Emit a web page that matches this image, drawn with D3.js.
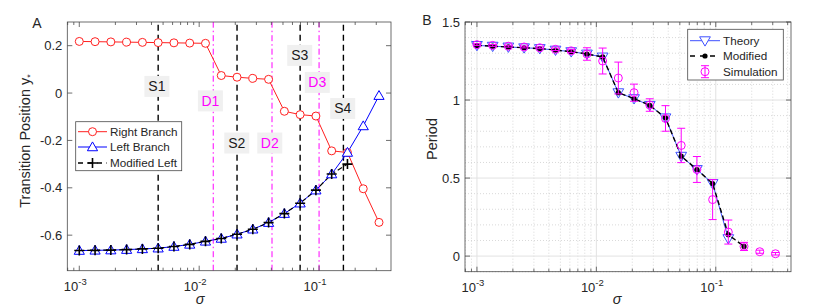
<!DOCTYPE html>
<html>
<head>
<meta charset="utf-8">
<script src="https://cdn.jsdelivr.net/npm/d3@7"></script>
<style>
    body { margin: 0; background: #fff; }
    text { font-family: "Liberation Sans", Arial, sans-serif; fill: #262626; }
</style>
</head>
<body>
<div id="chart"></div>
<script>
// sigma samples (shared by both panels)
const sigma = [0.001, 0.001354, 0.001833, 0.002482, 0.00336, 0.004549, 0.006158, 0.008338, 0.01129, 0.01528,
    0.02069, 0.02801, 0.03793, 0.05135, 0.06952, 0.09412, 0.1274, 0.1725, 0.2336, 0.3162];

// panel A
const rightBranch = [0.218, 0.217, 0.216, 0.215, 0.214, 0.213, 0.212, 0.211, 0.21, 0.074,
    0.067, 0.062, 0.058, -0.077, -0.091, -0.097, -0.244, -0.251, -0.404, -0.546];
const leftBranch = [-0.665, -0.664, -0.663, -0.661, -0.658, -0.655, -0.648, -0.639, -0.626, -0.614,
    -0.596, -0.575, -0.547, -0.509, -0.465, -0.41, -0.342, -0.251, -0.139, -0.011];
const modifiedLeft = [-0.665, -0.664, -0.663, -0.661, -0.658, -0.655, -0.648, -0.639, -0.626, -0.614,
    -0.596, -0.575, -0.547, -0.509, -0.465, -0.41, -0.342, -0.30];
const sLines = [0.004549, 0.02069, 0.06952, 0.1596];
const dLines = [0.0131, 0.0405, 0.1];
const boxLabels = [
    {name: "S1", s: 0.00444, y: 0.028, kind: "S"},
    {name: "D1", s: 0.0124, y: -0.033, kind: "D"},
    {name: "S2", s: 0.0206, y: -0.211, kind: "S"},
    {name: "D2", s: 0.0388, y: -0.211, kind: "D"},
    {name: "S3", s: 0.069, y: 0.159, kind: "S"},
    {name: "D3", s: 0.0966, y: 0.045, kind: "D"},
    {name: "S4", s: 0.1575, y: -0.065, kind: "S"}
];
const yTicksA = [-0.6, -0.4, -0.2, 0, 0.2];

// panel B
const theory = [1.35, 1.345, 1.34, 1.335, 1.33, 1.32, 1.31, 1.295, 1.276, 1.047,
    1.009, 0.966, 0.886, 0.64, 0.555, 0.465, 0.112];
const modified = [1.35, 1.345, 1.34, 1.335, 1.33, 1.32, 1.31, 1.295, 1.276, 1.047,
    1.009, 0.966, 0.886, 0.64, 0.555, 0.465, 0.137, 0.062];
const simulation = [1.355, 1.35, 1.345, 1.34, 1.335, 1.325, 1.315, 1.295, 1.25, 1.141,
    1.047, 0.968, 0.882, 0.709, 0.555, 0.362, 0.154, 0.062, 0.028, 0.015];
const simError = [0.006, 0.006, 0.006, 0.006, 0.006, 0.008, 0.01, 0.04, 0.083, 0.102,
    0.055, 0.04, 0.082, 0.11, 0.083, 0.128, 0.077, 0.026, 0.01, 0.008];
const yTicksB = [0, 0.5, 1, 1.5];

const xTicks = [1e-3, 1e-2, 1e-1];
const xTickExp = ["-3", "-2", "-1"];

const svg = d3.select("#chart").append("svg").attr("width", 830).attr("height", 308);
const axisColor = "#4a4a4a";

function minorLogTicks(lo, hi) {
    let out = [];
    for (let e = -4; e <= 0; e++)
        for (let m = 2; m <= 9; m++) {
            let v = m * Math.pow(10, e);
            if (v > lo && v < hi) out.push(v);
        }
    return out;
}

function grid(g, x, y, yTicks) {
    const [x0, x1] = x.range(), [y0, y1] = y.range();
    const xd = x.domain();
    g.append("g").selectAll("line").data(minorLogTicks(xd[0], xd[1])).enter().append("line")
        .attr("x1", d => x(d)).attr("x2", d => x(d)).attr("y1", y0).attr("y2", y1)
        .attr("stroke", "#c8c8c8").attr("stroke-width", 0.7).attr("stroke-dasharray", "1,2");
    g.append("g").selectAll("line").data(d3.range(-0.1, 1.5, 0.1).filter(v => Math.abs(v * 2 - Math.round(v * 2)) > 0.01)).enter().append("line")
        .attr("y1", d => y(d)).attr("y2", d => y(d)).attr("x1", x0).attr("x2", x1)
        .attr("stroke", "#c8c8c8").attr("stroke-width", 0.7).attr("stroke-dasharray", "1,2");
    g.append("g").selectAll("line").data(xTicks).enter().append("line")
        .attr("x1", d => x(d)).attr("x2", d => x(d)).attr("y1", y0).attr("y2", y1)
        .attr("stroke", "#e2e2e2").attr("stroke-width", 1);
    g.append("g").selectAll("line").data(yTicks).enter().append("line")
        .attr("y1", d => y(d)).attr("y2", d => y(d)).attr("x1", x0).attr("x2", x1)
        .attr("stroke", "#e2e2e2").attr("stroke-width", 1);
}

function axes(g, x, y, yTicks, yFmt) {
    const [x0, x1] = x.range(), [y0, y1] = y.range();
    const xd = x.domain();
    const minor = minorLogTicks(xd[0], xd[1]);
    g.append("rect").attr("x", x0).attr("y", y1).attr("width", x1 - x0).attr("height", y0 - y1)
        .attr("fill", "none").attr("stroke", axisColor).attr("stroke-width", 0.8);
    const tk = g.append("g").attr("stroke", axisColor).attr("stroke-width", 0.8);
    xTicks.forEach(v => {
        tk.append("line").attr("x1", x(v)).attr("x2", x(v)).attr("y1", y0).attr("y2", y0 - 5);
        tk.append("line").attr("x1", x(v)).attr("x2", x(v)).attr("y1", y1).attr("y2", y1 + 5);
    });
    minor.forEach(v => {
        tk.append("line").attr("x1", x(v)).attr("x2", x(v)).attr("y1", y0).attr("y2", y0 - 3);
        tk.append("line").attr("x1", x(v)).attr("x2", x(v)).attr("y1", y1).attr("y2", y1 + 3);
    });
    yTicks.forEach(v => {
        tk.append("line").attr("y1", y(v)).attr("y2", y(v)).attr("x1", x0).attr("x2", x0 + 5);
        tk.append("line").attr("y1", y(v)).attr("y2", y(v)).attr("x1", x1).attr("x2", x1 - 5);
    });
    xTicks.forEach((v, i) => {
        const t = g.append("text").attr("x", x(v) - 4).attr("y", y0 + 20).attr("text-anchor", "middle")
            .attr("font-size", 13);
        t.append("tspan").text("10");
        t.append("tspan").attr("dy", -6).attr("font-size", 9.5).text(xTickExp[i]);
    });
    g.selectAll(".ylab").data(yTicks).enter().append("text")
        .attr("x", x0 - 5).attr("y", d => y(d)).attr("dy", "0.35em").attr("text-anchor", "end")
        .attr("font-size", 13).text(yFmt);
}

// ---------- Panel A ----------
const xA = d3.scaleLog().domain([Math.pow(10, -3.1), Math.pow(10, -0.4)]).range([67.3, 391]);
const yA = d3.scaleLinear().domain([-0.75, 0.3]).range([270.7, 22]);
const gA = svg.append("g");
const fmtA = d => d === 0 ? "0" : d3.format(".1f")(d).replace("−", "-");

gA.selectAll(".sline").data(sLines).enter().append("line")
    .attr("x1", d => xA(d)).attr("x2", d => xA(d)).attr("y1", yA.range()[0]).attr("y2", yA.range()[1])
    .attr("stroke", "#000").attr("stroke-width", 1.4).attr("stroke-dasharray", "6,4");
gA.selectAll(".dline").data(dLines).enter().append("line")
    .attr("x1", d => xA(d)).attr("x2", d => xA(d)).attr("y1", yA.range()[0]).attr("y2", yA.range()[1])
    .attr("stroke", "#ff00ff").attr("stroke-width", 1).attr("stroke-dasharray", "6,3,1.5,3");

const boxes = gA.selectAll(".lab").data(boxLabels).enter().append("g")
    .attr("transform", d => `translate(${xA(d.s)},${yA(d.y)})`);
boxes.append("rect").attr("x", -12.5).attr("y", -10.5).attr("width", 25).attr("height", 21).attr("fill", "#f0f0f0");
boxes.append("text").attr("text-anchor", "middle").attr("dy", "0.36em").attr("font-size", 14)
    .style("fill", d => d.kind === "S" ? "#1a1a1a" : "#ff00ff").text(d => d.name);

const lineA = d3.line().x((d, i) => xA(sigma[i])).y(d => yA(d));
gA.append("path").attr("d", lineA(rightBranch)).attr("fill", "none").attr("stroke", "#ff2020").attr("stroke-width", 1);
gA.append("path").attr("d", lineA(leftBranch)).attr("fill", "none").attr("stroke", "#0000ff").attr("stroke-width", 1);
gA.append("path").attr("d", lineA(modifiedLeft)).attr("fill", "none").attr("stroke", "#000").attr("stroke-width", 1.2)
    .attr("stroke-dasharray", "5,3");

const tri = d3.symbol().type(d3.symbolTriangle).size(45);
const triDown = d3.symbol().type(d3.symbolTriangle).size(50);

gA.selectAll(".rc").data(rightBranch).enter().append("circle")
    .attr("cx", (d, i) => xA(sigma[i])).attr("cy", d => yA(d)).attr("r", 4)
    .attr("fill", "#fff").attr("stroke", "#ff2020").attr("stroke-width", 1);
gA.selectAll(".lt").data(leftBranch).enter().append("path")
    .attr("transform", (d, i) => `translate(${xA(sigma[i])},${yA(d) + 0.8})`).attr("d", tri)
    .attr("fill", "#fff").attr("stroke", "#0000ff").attr("stroke-width", 1);
gA.selectAll(".mp").data(modifiedLeft).enter().append("path")
    .attr("d", (d, i) => {
        const cx = xA(sigma[i]), cy = yA(d);
        return `M${cx - 5},${cy}H${cx + 5}M${cx},${cy - 5}V${cy + 5}`;
    })
    .attr("stroke", "#000").attr("stroke-width", 1.6);

axes(gA, xA, yA, yTicksA, fmtA);

// legend A
const legA = gA.append("g");
legA.append("rect").attr("x", 75.7).attr("y", 121.7).attr("width", 106).attr("height", 49)
    .attr("fill", "#fff").attr("stroke", axisColor).attr("stroke-width", 0.8);
const legAItems = ["Right Branch", "Left Branch", "Modified Left"];
const legAY = [131.7, 147, 163];
legA.append("line").attr("x1", 78).attr("x2", 107).attr("y1", legAY[0]).attr("y2", legAY[0]).attr("stroke", "#ff2020");
legA.append("circle").attr("cx", 92.5).attr("cy", legAY[0]).attr("r", 4).attr("fill", "#fff").attr("stroke", "#ff2020");
legA.append("line").attr("x1", 78).attr("x2", 107).attr("y1", legAY[1]).attr("y2", legAY[1]).attr("stroke", "#0000ff");
legA.append("path").attr("transform", `translate(92.5,${legAY[1] + 0.8})`).attr("d", tri).attr("fill", "#fff").attr("stroke", "#0000ff");
legA.append("line").attr("x1", 78).attr("x2", 107).attr("y1", legAY[2]).attr("y2", legAY[2]).attr("stroke", "#000")
    .attr("stroke-width", 1.4).attr("stroke-dasharray", "5,4.5");
legA.append("path").attr("d", `M87.5,${legAY[2]}H97.5M92.5,${legAY[2] - 5}V${legAY[2] + 5}`).attr("stroke", "#000").attr("stroke-width", 1.6);
legA.selectAll(".lt").data(legAItems).enter().append("text")
    .attr("x", 110).attr("y", (d, i) => legAY[i]).attr("dy", "0.35em").attr("font-size", 11.7).text(d => d);

// labels A
gA.append("text").attr("x", 37).attr("y", 28).attr("text-anchor", "middle").attr("font-size", 14).text("A");
const ylA = gA.append("text").attr("transform", "translate(30,141) rotate(-90)").attr("text-anchor", "middle").attr("font-size", 14.5);
ylA.append("tspan").text("Transition Position y");
ylA.append("tspan").attr("dy", 3).attr("font-size", 9).text("*");
gA.append("text").attr("x", 200).attr("y", 304).attr("text-anchor", "middle").attr("font-size", 14.5)
    .attr("font-style", "italic").text("σ");

// ---------- Panel B ----------
const xB = d3.scaleLog().domain([Math.pow(10, -3.1), Math.pow(10, -0.37)]).range([465, 791]);
const yB = d3.scaleLinear().domain([-0.1, 1.5]).range([271.7, 22]);
const gB = svg.append("g");
grid(gB, xB, yB, yTicksB);

const lineB = d3.line().x((d, i) => xB(sigma[i])).y(d => yB(d));
const theoryColor = "#3f51ff";
gB.append("path").attr("d", lineB(theory)).attr("fill", "none").attr("stroke", theoryColor).attr("stroke-width", 1);
gB.selectAll(".tt").data(theory).enter().append("path")
    .attr("transform", (d, i) => `translate(${xB(sigma[i])},${yB(d) - 0.8}) rotate(180)`).attr("d", triDown)
    .attr("fill", "#fff").attr("stroke", theoryColor).attr("stroke-width", 1);
gB.append("path").attr("d", lineB(modified)).attr("fill", "none").attr("stroke", "#000").attr("stroke-width", 1.4)
    .attr("stroke-dasharray", "5,3");
gB.selectAll(".md").data(modified).enter().append("circle")
    .attr("cx", (d, i) => xB(sigma[i])).attr("cy", d => yB(d)).attr("r", 2.6).attr("fill", "#000");

const eb = gB.selectAll(".eb").data(simulation).enter().append("g").attr("stroke", "#ff00ff").attr("stroke-width", 1);
eb.append("path").attr("fill", "none").attr("d", (d, i) => {
    const cx = xB(sigma[i]), top = yB(d + simError[i]), bot = yB(d - simError[i]);
    return `M${cx},${top}V${bot}M${cx - 4},${top}H${cx + 4}M${cx - 4},${bot}H${cx + 4}`;
});
eb.append("circle").attr("cx", (d, i) => xB(sigma[i])).attr("cy", d => yB(d)).attr("r", 4).attr("fill", "none");

axes(gB, xB, yB, yTicksB, d => d === 0 ? "0" : d3.format("")(d));

// legend B
const legB = gB.append("g");
legB.append("rect").attr("x", 687.7).attr("y", 29.3).attr("width", 95.6).attr("height", 50.7)
    .attr("fill", "#fff").attr("stroke", axisColor).attr("stroke-width", 0.8);
const legBItems = ["Theory", "Modified", "Simulation"];
const legBY = [40.7, 56, 71.7];
legB.append("line").attr("x1", 690).attr("x2", 720).attr("y1", legBY[0]).attr("y2", legBY[0]).attr("stroke", theoryColor);
legB.append("path").attr("transform", `translate(705,${legBY[0] - 0.8}) rotate(180)`).attr("d", triDown)
    .attr("fill", "#fff").attr("stroke", theoryColor);
legB.append("line").attr("x1", 690).attr("x2", 720).attr("y1", legBY[1]).attr("y2", legBY[1]).attr("stroke", "#000")
    .attr("stroke-width", 1.4).attr("stroke-dasharray", "5,5");
legB.append("circle").attr("cx", 705).attr("cy", legBY[1]).attr("r", 2.6).attr("fill", "#000");
legB.append("path").attr("d", `M705,${legBY[2] - 6}V${legBY[2] + 6}M701,${legBY[2] - 6}H709M701,${legBY[2] + 6}H709`)
    .attr("stroke", "#ff00ff").attr("fill", "none");
legB.append("circle").attr("cx", 705).attr("cy", legBY[2]).attr("r", 4).attr("fill", "none").attr("stroke", "#ff00ff");
legB.selectAll(".lt").data(legBItems).enter().append("text")
    .attr("x", 723).attr("y", (d, i) => legBY[i]).attr("dy", "0.35em").attr("font-size", 11.7).text(d => d);

gB.append("text").attr("x", 427).attr("y", 25).attr("text-anchor", "middle").attr("font-size", 14).text("B");
gB.append("text").attr("transform", "translate(437,139) rotate(-90)").attr("text-anchor", "middle").attr("font-size", 14.5).text("Period");
gB.append("text").attr("x", 617).attr("y", 304).attr("text-anchor", "middle").attr("font-size", 14.5)
    .attr("font-style", "italic").text("σ");
</script>
</body>
</html>
